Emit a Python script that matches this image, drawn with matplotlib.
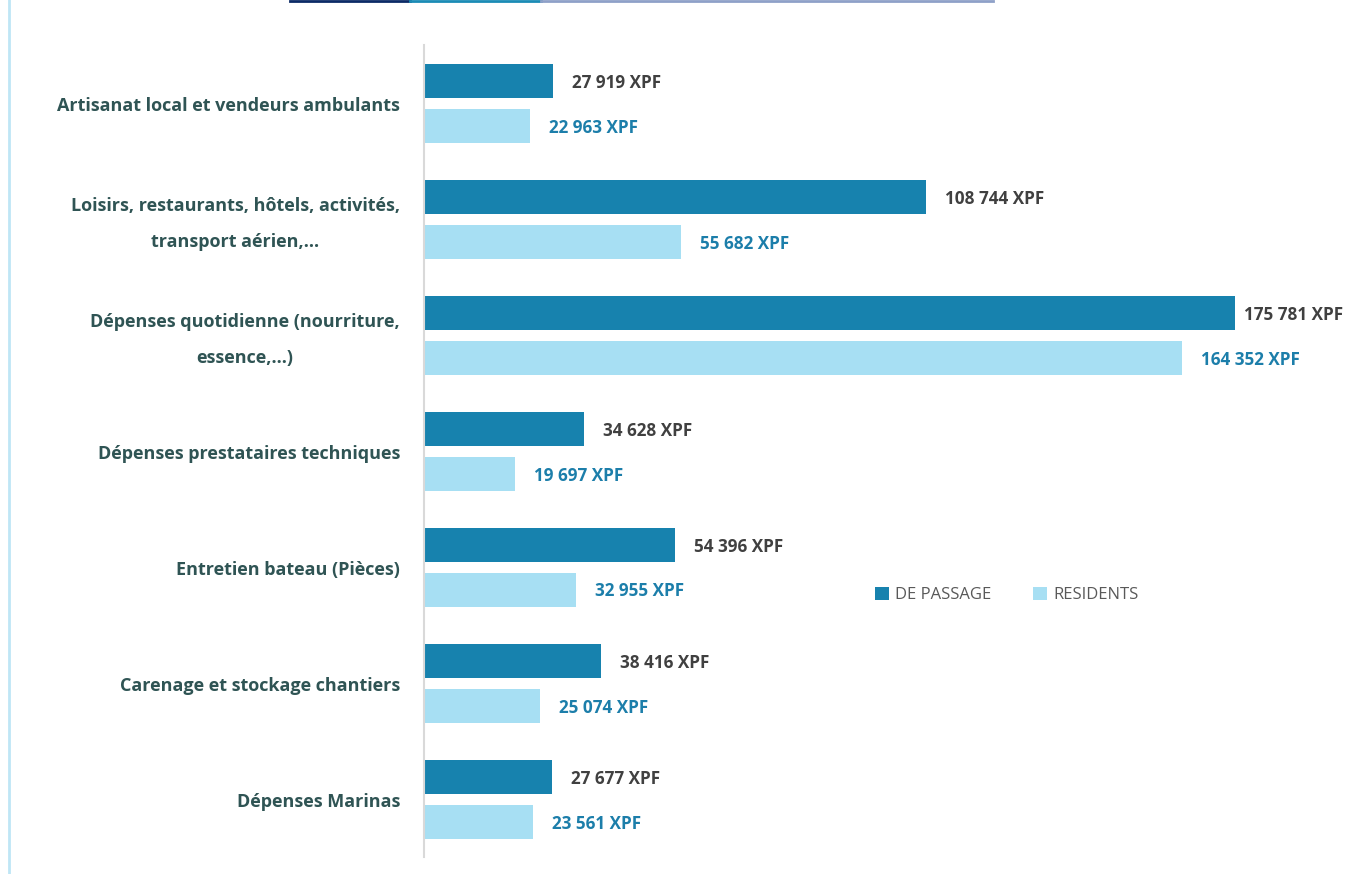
import matplotlib
matplotlib.use("Agg")
import matplotlib.pyplot as plt
import matplotlib.transforms as mtransforms
from matplotlib.patches import Patch
from matplotlib.lines import Line2D

categories = [
    "Artisanat local et vendeurs ambulants",
    "Loisirs, restaurants, hôtels, activités,\ntransport aérien,...",
    "Dépenses quotidienne (nourriture,\nessence,...)",
    "Dépenses prestataires techniques",
    "Entretien bateau (Pièces)",
    "Carenage et stockage chantiers",
    "Dépenses Marinas",
]
de_passage = [27919, 108744, 175781, 34628, 54396, 38416, 27677]
residents = [22963, 55682, 164352, 19697, 32955, 25074, 23561]
series_names = ["DE PASSAGE", "RESIDENTS"]

dark = "#1782AE"
light = "#A7DFF3"
cat_color = "#2F5454"

W, H = 1347, 874
fig = plt.figure(figsize=(W / 100, H / 100), dpi=100)
ax = fig.add_axes([424 / W, 17 / H, 923 / W, 812 / H])

ys = list(range(len(categories)))
h = 34 / 116
off = 22.5 / 116
ax.barh([y - off for y in ys], de_passage, height=h, color=dark)
ax.barh([y + off for y in ys], residents, height=h, color=light)

xmax = 923 / 0.004614
ax.set_xlim(0, xmax)
ax.set_ylim(6.5, -0.5)

def fmt(v):
    return f"{v:,}".replace(",", " ") + " XPF"

pad = 19 / 0.004614
small_pad = 9 / 0.004614

def label(v, y, color):
    p = small_pad if v > 0.86 * xmax else pad
    ax.text(v + p, y, fmt(v), va="center_baseline", ha="left", fontsize=12.3,
            fontweight="bold", color=color, family="Open Sans", clip_on=False)

for y, v in zip(ys, de_passage):
    label(v, y - off, "#404040")
for y, v in zip(ys, residents):
    label(v, y + off, "#1C7EAA")

# category labels, right-aligned 24px left of the axis, multi-line centred
ax.set_yticks(ys)
ax.set_yticklabels([])
ax.tick_params(axis="y", length=0)
base = mtransforms.blended_transform_factory(ax.transAxes, ax.transData)
for y, cat in zip(ys, categories):
    dy = -5 / 100 if "\n" in cat else -2.5 / 100
    tr = base + mtransforms.ScaledTranslation(-24 / 100, dy, fig.dpi_scale_trans)
    ax.text(0, y, cat, transform=tr, ha="right", va="center", multialignment="center",
            fontsize=13, fontweight="bold", color=cat_color, family="Open Sans",
            linespacing=2.3, clip_on=False)

ax.set_xticks([])
for s in ["top", "right", "bottom"]:
    ax.spines[s].set_visible(False)
ax.spines["left"].set_color("#D9D9D9")
ax.spines["left"].set_linewidth(1.5)

handles = [Patch(facecolor=dark, edgecolor="none"), Patch(facecolor=light, edgecolor="none")]
leg = fig.legend(handles, series_names, loc="center", bbox_to_anchor=(1007 / W, 1 - 595 / H),
                 ncol=2, frameon=False, handlelength=0.8, handleheight=0.8,
                 handletextpad=0.4, columnspacing=2.5, prop={"family": "Open Sans", "size": 12})
for t in leg.get_texts():
    t.set_color("#595959")

# left decorative border
fig.add_artist(Line2D([8.5 / W, 8.5 / W], [0, 1], color="#BFE6F5", linewidth=2))
# top title underline fragments
fig.add_artist(Line2D([290 / W, 410 / W], [1 - 0.8 / H] * 2, color="#0B2A66", linewidth=2))
fig.add_artist(Line2D([410 / W, 541 / W], [1 - 0.8 / H] * 2, color="#1A8BB5", linewidth=2))
fig.add_artist(Line2D([541 / W, 993 / W], [1 - 0.8 / H] * 2, color="#8EA0C8", linewidth=2))

fig.savefig("out.png", dpi=100)
